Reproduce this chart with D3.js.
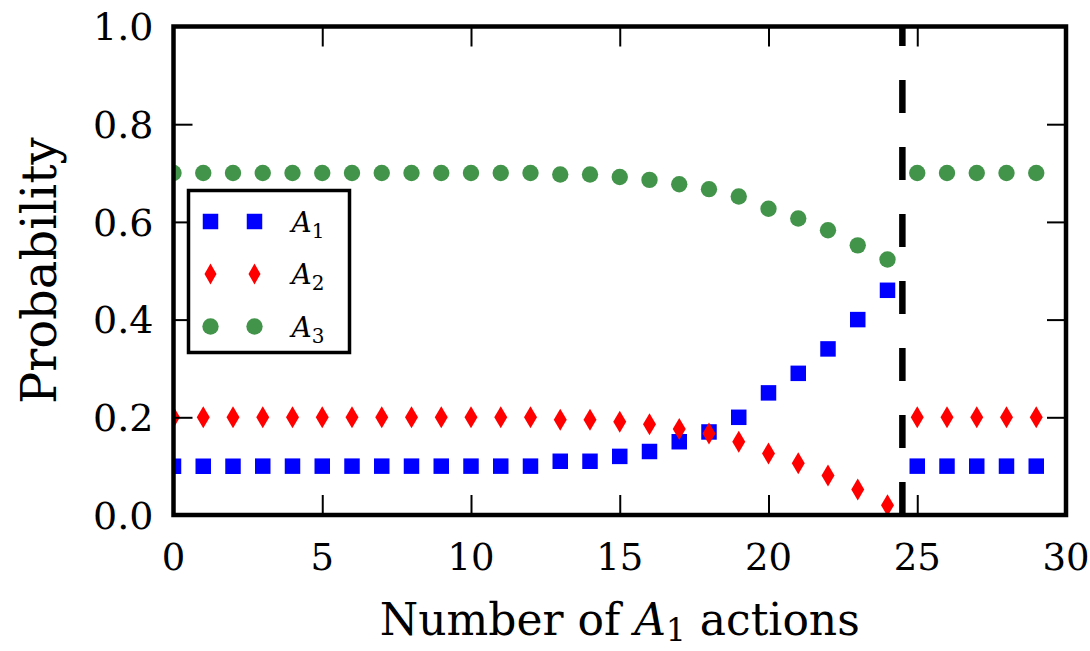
<!DOCTYPE html>
<html>
<head>
<meta charset="utf-8">
<script src="https://cdn.jsdelivr.net/npm/d3@7"></script>
<style>
  body { margin: 0; background: #fff; }
</style>
</head>
<body>
<div class="chart"></div>
<script>
var svgWidth = 1090;
var svgHeight = 651;

var margin = { top: 26.5, right: 24, bottom: 136, left: 173.5 };
var width = svgWidth - margin.left - margin.right;
var height = svgHeight - margin.top - margin.bottom;

var serif = "'DejaVu Serif', serif";

// data
var actions = [0, 1, 2, 3, 4, 5, 6, 7, 8, 9, 10, 11, 12, 13, 14,
  15, 16, 17, 18, 19, 20, 21, 22, 23, 24, 25, 26, 27, 28, 29];
var probA1 = [0.10, 0.10, 0.10, 0.10, 0.10, 0.10, 0.10, 0.10, 0.10, 0.10, 0.10, 0.10, 0.10, 0.11, 0.11,
  0.12, 0.13, 0.15, 0.17, 0.20, 0.25, 0.29, 0.34, 0.40, 0.46, 0.10, 0.10, 0.10, 0.10, 0.10];
var probA2 = [0.20, 0.20, 0.20, 0.20, 0.20, 0.20, 0.20, 0.20, 0.20, 0.20, 0.20, 0.20, 0.20, 0.195, 0.195,
  0.191, 0.186, 0.176, 0.167, 0.150, 0.126, 0.106, 0.081, 0.052, 0.020, 0.20, 0.20, 0.20, 0.20, 0.20];
var probA3 = [0.70, 0.70, 0.70, 0.70, 0.70, 0.70, 0.70, 0.70, 0.70, 0.70, 0.70, 0.70, 0.70, 0.697, 0.697,
  0.692, 0.686, 0.677, 0.667, 0.652, 0.627, 0.607, 0.583, 0.552, 0.523, 0.70, 0.70, 0.70, 0.70, 0.70];
var seriesNames = ["1", "2", "3"];   // subscripts of A
var cutoff = 24.5;
var xTicks = [0, 5, 10, 15, 20, 25, 30];
var yTicks = [0.0, 0.2, 0.4, 0.6, 0.8, 1.0];

var blue = "#0000ff", red = "#ff0000", green = "#43944b";

var svg = d3.select(".chart")
  .append("svg")
  .attr("width", svgWidth)
  .attr("height", svgHeight)
  .attr("font-family", serif);

var chartGroup = svg.append("g")
  .attr("transform", `translate(${margin.left}, ${margin.top})`);

var xScale = d3.scaleLinear().domain([0, 30]).range([0, width]);
var yScale = d3.scaleLinear().domain([0, 1]).range([height, 0]);

svg.append("defs").append("clipPath")
  .attr("id", "plot-clip")
  .append("rect")
  .attr("width", width)
  .attr("height", height);

// marker shapes
var squareShape = d3.symbol().type(d3.symbolSquare).size(240);
var circleShape = d3.symbol().type(d3.symbolCircle).size(210);
function diamondPath(w, h) {
  return `M0,${-h / 2}L${w / 2},0L0,${h / 2}L${-w / 2},0Z`;
}

var plotArea = chartGroup.append("g").attr("clip-path", "url(#plot-clip)");

function drawSeries(values, color, shape) {
  plotArea.append("g")
    .selectAll("path")
    .data(values)
    .enter()
    .append("path")
    .attr("transform", (d, i) => `translate(${xScale(actions[i])}, ${yScale(d)})`)
    .attr("d", shape)
    .attr("fill", color);
}

drawSeries(probA1, blue, squareShape());
drawSeries(probA2, red, diamondPath(13, 22));
drawSeries(probA3, green, circleShape());

// dashed cutoff line
plotArea.append("line")
  .attr("x1", xScale(cutoff))
  .attr("x2", xScale(cutoff))
  .attr("y1", yScale(0))
  .attr("y2", yScale(1))
  .attr("stroke", "#000")
  .attr("stroke-width", 6.5)
  .attr("stroke-dasharray", "33,34");

// ticks inside on all four sides
var bottomAxis = d3.axisBottom(xScale).tickValues(xTicks).tickSize(-20).tickFormat("");
var topAxis = d3.axisTop(xScale).tickValues(xTicks).tickSize(-20).tickFormat("");
var leftAxis = d3.axisLeft(yScale).tickValues(yTicks).tickSize(-19).tickFormat("");
var rightAxis = d3.axisRight(yScale).tickValues(yTicks).tickSize(-19).tickFormat("");

chartGroup.append("g").attr("transform", `translate(0, ${height})`).call(bottomAxis);
chartGroup.append("g").call(topAxis);
chartGroup.append("g").call(leftAxis);
chartGroup.append("g").attr("transform", `translate(${width}, 0)`).call(rightAxis);

chartGroup.selectAll(".domain").remove();
chartGroup.selectAll(".tick text").remove();
chartGroup.selectAll(".tick line").attr("stroke", "#000").attr("stroke-width", 2);

// tick labels
chartGroup.append("g")
  .selectAll("text")
  .data(xTicks)
  .enter()
  .append("text")
  .attr("x", d => xScale(d))
  .attr("y", height + 55)
  .attr("text-anchor", "middle")
  .style("font-family", serif)
  .style("font-size", "37px")
  .text(d => d);

chartGroup.append("g")
  .selectAll("text")
  .data(yTicks)
  .enter()
  .append("text")
  .attr("x", -20)
  .attr("y", d => yScale(d))
  .attr("dy", "0.36em")
  .attr("text-anchor", "end")
  .style("font-family", serif)
  .style("font-size", "38px")
  .text(d => d3.format(".1f")(d));

// frame
chartGroup.append("rect")
  .attr("width", width)
  .attr("height", height)
  .attr("fill", "none")
  .attr("stroke", "#000")
  .attr("stroke-width", 4.5);

// axis labels
var xLabel = chartGroup.append("text")
  .attr("x", width / 2)
  .attr("y", height + 120)
  .attr("text-anchor", "middle")
  .style("font-family", serif)
  .style("font-size", "44px");
xLabel.append("tspan").text("Number of ");
xLabel.append("tspan").style("font-style", "italic").text("A");
xLabel.append("tspan").attr("dy", 6).style("font-size", "31px").text("1");
xLabel.append("tspan").attr("dy", -6).text(" actions");

chartGroup.append("text")
  .attr("transform", `translate(${-118}, ${height / 2}) rotate(-90)`)
  .attr("text-anchor", "middle")
  .style("font-family", serif)
  .style("font-size", "48px")
  .text("Probability");

// legend
var legend = chartGroup.append("g")
  .attr("transform", "translate(15, 164)");

legend.append("rect")
  .attr("width", 161)
  .attr("height", 162)
  .attr("fill", "#fff")
  .attr("stroke", "#000")
  .attr("stroke-width", 3.5);

var legendShapes = [
  { color: blue, shape: squareShape() },
  { color: red, shape: diamondPath(12, 21) },
  { color: green, shape: circleShape() }
];

seriesNames.forEach(function(name, i) {
  var row = legend.append("g")
    .attr("transform", `translate(0, ${31 + i * 52.5})`);
  [22, 66].forEach(function(mx) {
    row.append("path")
      .attr("transform", `translate(${mx}, 0)`)
      .attr("d", legendShapes[i].shape)
      .attr("fill", legendShapes[i].color);
  });
  var label = row.append("text")
    .attr("x", 103)
    .attr("y", 10)
    .style("font-family", serif)
    .style("font-size", "28px");
  label.append("tspan").style("font-style", "italic").text("A");
  label.append("tspan").attr("dy", 6).style("font-size", "20px").text(name);
});
</script>
</body>
</html>
